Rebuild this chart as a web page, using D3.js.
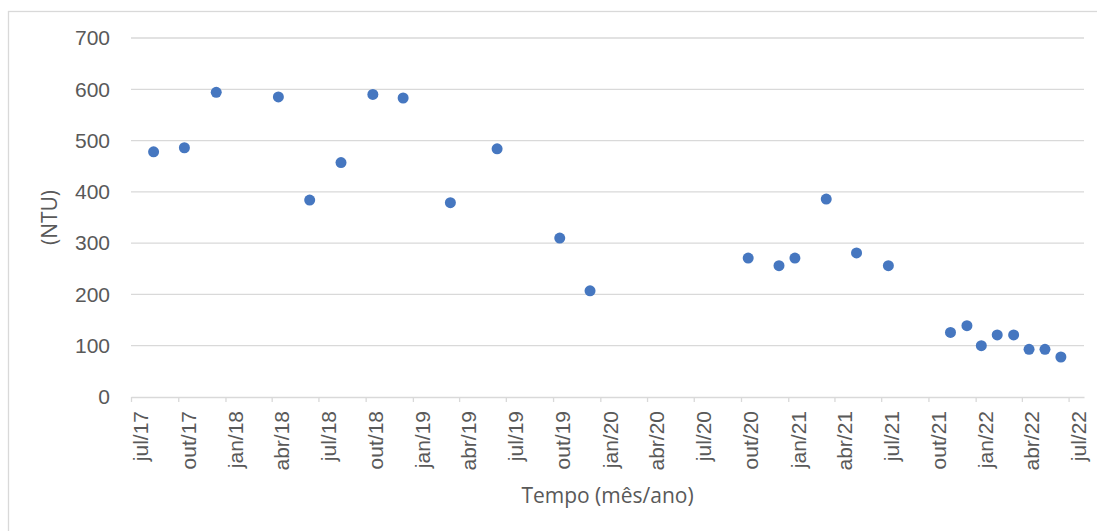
<!DOCTYPE html>
<html>
<head>
<meta charset="utf-8">
<script src="https://cdn.jsdelivr.net/npm/d3@7"></script>
<style>
  body { margin: 0; background: #fff; }
  svg { display: block; font-family: "Open Sans", sans-serif; }
</style>
</head>
<body>
<svg></svg>
<script>
var W = 1097, H = 531;
var margin = {top: 38, right: 13, bottom: 134, left: 131},
    width = W - margin.left - margin.right,
    height = H - margin.top - margin.bottom;

// data
var dates = ["2017-08-14", "2017-10-13", "2017-12-14", "2018-04-14", "2018-06-14", "2018-08-14",
             "2018-10-15", "2018-12-13", "2019-03-15", "2019-06-14", "2019-10-14", "2019-12-12",
             "2020-10-15", "2020-12-14", "2021-01-14", "2021-03-16", "2021-05-14", "2021-07-15",
             "2021-11-13", "2021-12-15", "2022-01-12", "2022-02-12", "2022-03-16", "2022-04-15",
             "2022-05-16", "2022-06-16"];
var ntu = [478, 486, 594, 585, 384, 457,
           590, 583, 379, 484, 310, 207,
           271, 256, 271, 386, 281, 256,
           126, 139, 100, 121, 121, 93,
           93, 78];
var yTicks = [0, 100, 200, 300, 400, 500, 600, 700];
var monthNames = ["jan", "fev", "mar", "abr", "mai", "jun", "jul", "ago", "set", "out", "nov", "dez"];

var parse = d3.timeParse("%Y-%m-%d");
var points = dates.map(function(d, i) { return {date: parse(d), value: ntu[i]}; });

var svg = d3.select("svg")
    .attr("width", W)
    .attr("height", H);

// outer chart border
svg.append("rect")
    .attr("x", 8.5).attr("y", 11.5)
    .attr("width", W).attr("height", H)
    .attr("fill", "none")
    .attr("stroke", "#d9d9d9")
    .attr("stroke-width", 1.3);

var g = svg.append("g")
    .attr("transform", "translate(" + margin.left + "," + margin.top + ")");

var x = d3.scaleTime()
    .domain([new Date(2017, 6, 1), new Date(2022, 6, 31)])
    .range([0, width]);
var y = d3.scaleLinear()
    .domain([0, 700])
    .range([height, 0]);

// gridlines
g.selectAll("line.grid")
    .data(yTicks.filter(function(d) { return d > 0; }))
    .join("line")
    .attr("class", "grid")
    .attr("x1", 0).attr("x2", width)
    .attr("y1", function(d) { return y(d); })
    .attr("y2", function(d) { return y(d); })
    .attr("stroke", "#d9d9d9")
    .attr("stroke-width", 1.3);

// y axis labels
var yAxis = g.append("g")
    .call(d3.axisLeft(y).tickValues(yTicks).tickSize(0).tickPadding(21));
yAxis.select(".domain").remove();
yAxis.selectAll("text")
    .attr("fill", "#595959")
    .style("font-size", "21px");

// x axis
var quarters = d3.timeMonth.range(new Date(2017, 6, 1), new Date(2022, 6, 2), 3);
var xAxis = g.append("g")
    .attr("transform", "translate(0," + height + ")")
    .call(d3.axisBottom(x)
        .tickValues(quarters)
        .tickSizeInner(5)
        .tickSizeOuter(0)
        .tickFormat(function(d) { return monthNames[d.getMonth()] + "/" + d3.timeFormat("%y")(d); }));
xAxis.select(".domain")
    .attr("stroke", "#d9d9d9")
    .attr("stroke-width", 1.3);
xAxis.selectAll(".tick line")
    .attr("stroke", "#d9d9d9")
    .attr("stroke-width", 1.3);
xAxis.selectAll(".tick text")
    .attr("fill", "#595959")
    .style("font-size", "21px")
    .attr("text-anchor", "end")
    .attr("x", 0).attr("y", 0)
    .attr("dy", "0.35em")
    .attr("transform", "translate(9.5,14) rotate(-90)");

// points
g.selectAll("circle")
    .data(points)
    .join("circle")
    .attr("cx", function(d) { return x(d.date); })
    .attr("cy", function(d) { return y(d.value); })
    .attr("r", 5.5)
    .attr("fill", "#4677c0");

// axis titles
svg.append("text")
    .attr("transform", "translate(57," + (margin.top + height / 2) + ") rotate(-90)")
    .attr("text-anchor", "middle")
    .attr("fill", "#595959")
    .style("font-size", "21px")
    .text("(NTU)");

svg.append("text")
    .attr("x", margin.left + width / 2)
    .attr("y", 503)
    .attr("text-anchor", "middle")
    .attr("fill", "#595959")
    .style("font-size", "21px")
    .text("Tempo (mês/ano)");
</script>
</body>
</html>
